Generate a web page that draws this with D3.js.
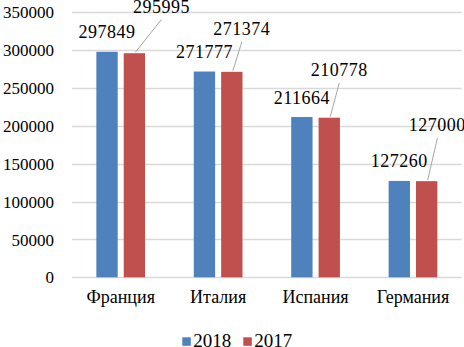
<!DOCTYPE html>
<html>
<head>
  <meta charset="utf-8">
  <script src="https://d3js.org/d3.v7.min.js"></script>
  <style>
    body { margin: 0; background: #fff; }
    svg text { font-family: 'Liberation Serif', 'Times New Roman', Tinos, serif !important; fill: #000; }
  </style>
</head>
<body>
<div id="vis"></div>
<script>
// data
var countries = ["Франция", "Италия", "Испания", "Германия"];
var years = ["2018", "2017"];
var values2018 = [297849, 271777, 211664, 127260];
var values2017 = [295995, 271374, 210778, 127000];
var yTicks = [0, 50000, 100000, 150000, 200000, 250000, 300000, 350000];
var colors = ["#4f81bd", "#c0504d"];

// where the 2017 labels sit relative to their bar (leader lines)
var leaderDx = [27, 10, 10, 10.7];
var leaderDy = [-40.7, -37, -41.7, -50];

var width = 464, height = 347;
var plotLeft = 72, plotRight = 461.7, plotTop = 12.3, plotBottom = 277.3;

var svg = d3.select("#vis").append("svg")
  .attr("width", width)
  .attr("height", height);

var y = d3.scaleLinear().domain([0, 350000]).range([plotBottom, plotTop]);

var x0 = d3.scaleBand()
  .domain(countries)
  .range([plotLeft, plotRight])
  .paddingInner(0.5)
  .paddingOuter(0.25);

var x1 = d3.scaleBand()
  .domain(years)
  .range([0, x0.bandwidth()])
  .paddingInner(0.22);

// gridlines
svg.append("g")
  .selectAll("line")
  .data(yTicks)
  .enter().append("line")
  .attr("x1", plotLeft)
  .attr("x2", plotRight)
  .attr("y1", function(d) { return Math.round(y(d)) + 0.5; })
  .attr("y2", function(d) { return Math.round(y(d)) + 0.5; })
  .attr("stroke", "#d9d9d9")
  .attr("stroke-width", 1.3);

// y axis labels
var yAxis = d3.axisLeft(y).tickValues(yTicks).tickSize(0).tickPadding(0)
  .tickFormat(function(d) { return d; });
var gy = svg.append("g")
  .attr("transform", "translate(54,0)")
  .call(yAxis);
gy.attr("font-family", null);
gy.select(".domain").remove();
gy.selectAll("text")
  .attr("font-size", "17px")
  .attr("fill", "#000")
  .attr("dy", "0.33em");

// x axis labels
var xAxis = d3.axisBottom(x0).tickSize(0).tickPadding(0);
var gx = svg.append("g")
  .attr("transform", "translate(0," + plotBottom + ")")
  .call(xAxis);
gx.attr("font-family", null);
gx.select(".domain").remove();
gx.selectAll("text")
  .attr("font-size", "18px")
  .attr("fill", "#000")
  .attr("y", 26.2)
  .attr("dy", 0);

var series = [values2018, values2017];

// bars
series.forEach(function(vals, si) {
  svg.append("g")
    .selectAll("rect")
    .data(vals)
    .enter().append("rect")
    .attr("x", function(d, i) { return x0(countries[i]) + x1(years[si]); })
    .attr("y", function(d) { return y(d); })
    .attr("width", x1.bandwidth())
    .attr("height", function(d) { return y(0) - y(d); })
    .attr("fill", colors[si]);
});

// 2018 labels, straight above the bars
svg.append("g")
  .selectAll("text")
  .data(values2018)
  .enter().append("text")
  .attr("x", function(d, i) { return x0(countries[i]) + x1("2018") + x1.bandwidth() / 2; })
  .attr("y", function(d) { return y(d) - 13.5; })
  .attr("text-anchor", "middle")
  .attr("font-size", "18px")
  .attr("letter-spacing", "0.5px")
  .text(function(d) { return d; });

// 2017 labels, moved out with leader lines
var cx17 = function(i) { return x0(countries[i]) + x1("2017") + x1.bandwidth() / 2; };

svg.append("g")
  .selectAll("line")
  .data(values2017)
  .enter().append("line")
  .attr("x1", function(d, i) { return cx17(i) + leaderDx[i]; })
  .attr("y1", function(d, i) { return y(d) + leaderDy[i] + 7; })
  .attr("x2", function(d, i) { return cx17(i) + 1; })
  .attr("y2", function(d) { return y(d) - 1; })
  .attr("stroke", "#a6a6a6")
  .attr("stroke-width", 1);

svg.append("g")
  .selectAll("text")
  .data(values2017)
  .enter().append("text")
  .attr("x", function(d, i) { return cx17(i) + leaderDx[i]; })
  .attr("y", function(d, i) { return y(d) + leaderDy[i]; })
  .attr("text-anchor", "middle")
  .attr("font-size", "18px")
  .attr("letter-spacing", "0.5px")
  .text(function(d) { return d; });

// legend
var legendX = [182.3, 243.3];
var legend = svg.append("g");
years.forEach(function(yr, i) {
  legend.append("rect")
    .attr("x", legendX[i])
    .attr("y", 337.3)
    .attr("width", 8.5)
    .attr("height", 8.5)
    .attr("fill", colors[i]);
  legend.append("text")
    .attr("x", legendX[i] + 11)
    .attr("y", 346.5)
    .attr("font-size", "19px")
    .text(yr);
});
</script>
</body>
</html>
